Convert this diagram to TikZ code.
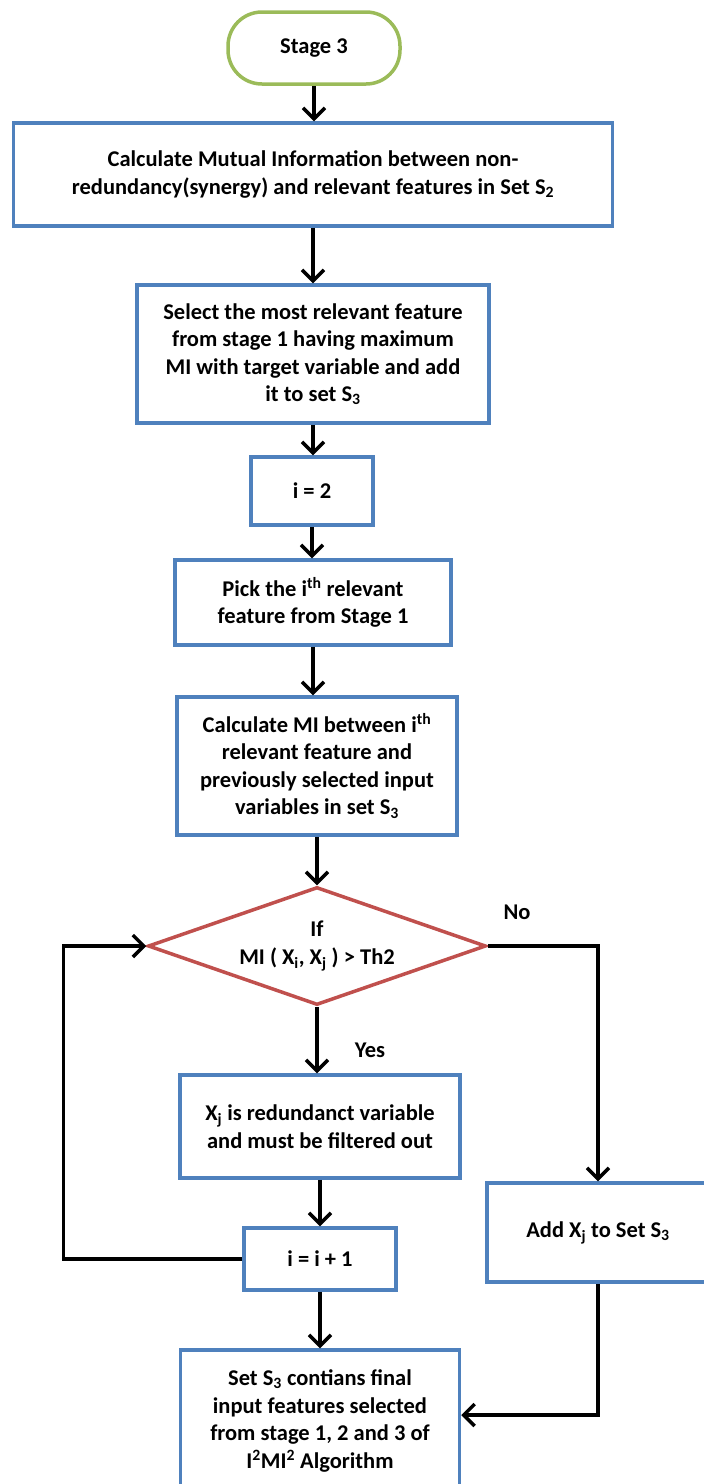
\documentclass[tikz,border=0pt]{standalone}
\usepackage{fontspec}
\setmainfont{Carlito}
\usetikzlibrary{arrows.meta,shapes.geometric}
\definecolor{boxblue}{HTML}{4F81BD}
\definecolor{startgreen}{HTML}{9BBB59}
\definecolor{decred}{HTML}{C0504D}
\tikzset{
  txt/.style={font=\fontsize{22.5}{27.5}\selectfont\bfseries, align=center, inner sep=0pt},
  stepbox/.style={txt, draw=boxblue, line width=3.5pt, rectangle},
  startbox/.style={txt, draw=startgreen, line width=3.5pt, rectangle, rounded corners=34pt},
  decision/.style={draw=decred, line width=3.5pt, diamond, inner sep=0pt},
  flow/.style={line width=3.5pt, draw=black, -{Straight Barb[length=11pt,width=22pt,line width=3.5pt]}},
}
\begin{document}
\begin{tikzpicture}[x=1pt,y=-1pt]
\useasboundingbox (0,0) rectangle (704,1484);

% process chain
\node[startbox, minimum width=172pt, minimum height=72pt] (start) at (314,48) {Stage 3};
\node[stepbox, minimum width=599pt, minimum height=103pt] (calcmi) at (313,174.5)
  {Calculate  Mutual Information  between non-\\redundancy(synergy)  and relevant features in Set S\textsubscript{2}};
\node[stepbox, minimum width=352pt, minimum height=138pt] (select) at (313,354)
  {Select the most relevant feature\\from stage 1 having  maximum\\MI with target variable and add\\it to set S\textsubscript{3}};
\node[stepbox, minimum width=122pt, minimum height=68pt] (init) at (312,491) {i = 2};
\node[stepbox, minimum width=276pt, minimum height=85pt] (pick) at (313,602.5)
  {Pick the i\textsuperscript{th} relevant\\feature from Stage 1};
\node[stepbox, minimum width=280pt, minimum height=138pt] (calcpair) at (317,766)
  {Calculate  MI between i\textsuperscript{th}\\relevant feature and\\previously selected input\\variables  in set S\textsubscript{3}};

% decision: outline and its condition text
\node[decision, minimum width=338pt, minimum height=118pt] (test) at (317,946) {};
\node[txt] (testtext) at (test.center) {If\\MI ( X\textsubscript{i}, X\textsubscript{j} ) > Th2};

\node[stepbox, minimum width=280pt, minimum height=103pt] (redund) at (320,1126.5)
  {X\textsubscript{j} is redundanct variable\\and  must be filtered out};
\node[stepbox, minimum width=152pt, minimum height=62pt] (incr) at (320,1259) {i = i + 1};
\node[stepbox, minimum width=279pt, minimum height=142pt] (final) at (320,1421)
  {Set S\textsubscript{3} contians  final\\input features selected\\from stage 1, 2 and 3 of\\I\textsuperscript{2}MI\textsuperscript{2} Algorithm};
\node[stepbox, minimum width=222pt, minimum height=99pt] (addset) at (598,1232.5)
  {Add X\textsubscript{j} to Set S\textsubscript{3}};

% branch labels
\node[txt] (nolabel) at (517,912) {No};
\node[txt] (yeslabel) at (370,1050) {Yes};

% connectors
\draw[flow] (start.south) -- (start.south |- calcmi.north);
\draw[flow] (calcmi.south) -- (calcmi.south |- select.north);
\draw[flow] (select.south) -- (select.south |- init.north);
\draw[flow] (init.south) -- (init.south |- pick.north);
\draw[flow] (pick.south) -- (pick.south |- calcpair.north);
\draw[flow] (calcpair.south) -- (test.north);
\draw[flow] (test.south) -- (test.south |- redund.north);
\draw[flow] (redund.south) -- (redund.south |- incr.north);
\draw[flow] (incr.south) -- (incr.south |- final.north);
\draw[flow] (test.east) -| (addset.north);
\draw[flow] (incr.west) -- ++(-179,0) |- (test.west);
\draw[flow] (addset.south) |- ([yshift=6pt]final.east);
\end{tikzpicture}
\end{document}
